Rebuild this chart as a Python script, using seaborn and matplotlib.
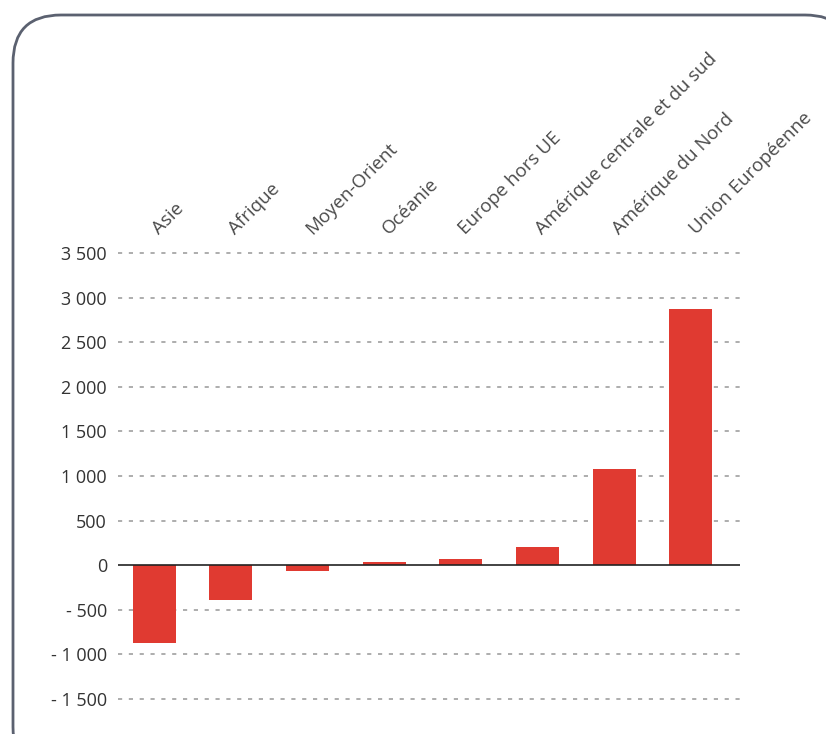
import numpy as np
import pandas as pd
import matplotlib.pyplot as plt
import seaborn as sns
from matplotlib.patches import FancyBboxPatch
from matplotlib.ticker import FuncFormatter

regions = ['Asie', 'Afrique', 'Moyen-Orient', 'Océanie', 'Europe hors UE',
           'Amérique centrale et du sud', 'Amérique du Nord', 'Union Européenne']
values = [-870, -390, -60, 35, 70, 200, 1080, 2870]
yticks = [-1500, -1000, -500, 0, 500, 1000, 1500, 2000, 2500, 3000, 3500]

df = pd.DataFrame({'region': regions, 'value': values})

sns.set_style('white')
plt.rcParams['font.family'] = ['Open Sans', 'DejaVu Sans']

fig = plt.figure(figsize=(8.26, 7.34), dpi=100)
ax = fig.add_axes([118 / 826, 1 - 701.7 / 734, (740 - 118) / 826, (701.7 - 250.3) / 734])

sns.barplot(data=df, x='region', y='value', color='#e03a31', width=0.56,
            saturation=1, linewidth=0, ax=ax, zorder=3)

ax.set_xlim(-0.47, 7.64)
ax.set_ylim(-1530, 3530)
ax.set_yticks(yticks)


def fmt(v, pos):
    s = f'{abs(int(v)):,}'.replace(',', ' ')
    return ('- ' + s) if v < 0 else s


ax.yaxis.set_major_formatter(FuncFormatter(fmt))
for t in yticks:
    if t != 0:
        ax.axhline(t, color='#a0a0a0', lw=1.2, ls=(0, (2.5, 4)), zorder=1)
ax.axhline(0, color='#222222', lw=1.2, zorder=4)

# labels sit slightly right of the bar centres, as in the original
ax.xaxis.tick_top()
ax.set_xticks(np.arange(len(regions)) + 0.1)
ax.set_xticklabels(regions, rotation=45, ha='left', va='bottom',
                   rotation_mode='anchor', fontsize=13.5, color='#4a4a4a')
ax.tick_params(axis='x', length=0, pad=9)
ax.tick_params(axis='y', length=0, pad=8, labelsize=13, labelcolor='#333333')
ax.set_xlabel('')
ax.set_ylabel('')
for s in ax.spines.values():
    s.set_visible(False)

# rounded frame around the whole chart
bg = fig.add_axes([0, 0, 1, 1], zorder=-1)
bg.set_xlim(0, 826)
bg.set_ylim(734, 0)
bg.axis('off')
bg.add_patch(FancyBboxPatch((13, 15), 840, 760, boxstyle='round,pad=0,rounding_size=48',
                            fc='white', ec='#5b6170', lw=2))

fig.savefig('out.png', dpi=100)
